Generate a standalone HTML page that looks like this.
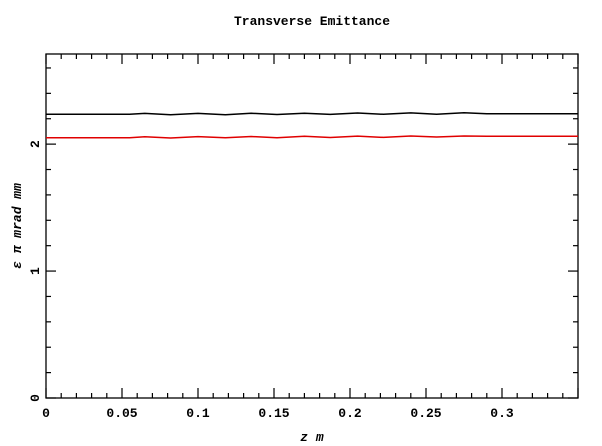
<!DOCTYPE html>
<html><head><meta charset="utf-8"><style>
body{margin:0;background:#fff}
svg{display:block}
text{font-family:"Liberation Mono",monospace;fill:#000}
</style></head><body>
<svg width="602" height="446" viewBox="0 0 602 446">
<text x="312" y="25" text-anchor="middle" font-size="13" font-weight="bold">Transverse Emittance</text>
<g id="axes"></g>
<g id="series"></g>
<text x="312" y="441" text-anchor="middle" font-size="13" font-style="italic" font-weight="bold">z m</text>
<text transform="translate(21,226) rotate(-90)" text-anchor="middle" font-size="13" font-style="italic" font-weight="bold">ε π mrad mm</text>
</svg>
<script>
const xTicks=[0,0.05,0.1,0.15,0.2,0.25,0.3];
const xTickLabels=["0","0.05","0.1","0.15","0.2","0.25","0.3"];
const yTicks=[0,1,2];
const yTickLabels=["0","1","2"];
const zValues=[0,0.055,0.065,0.082,0.1,0.118,0.135,0.152,0.17,0.187,0.205,0.222,0.24,0.257,0.275,0.29,0.35];
const blackSeries=[2.235,2.235,2.242,2.232,2.242,2.232,2.243,2.233,2.244,2.234,2.245,2.235,2.246,2.236,2.247,2.24,2.24];
const redSeries=[2.05,2.05,2.058,2.048,2.059,2.05,2.06,2.05,2.062,2.052,2.063,2.053,2.064,2.056,2.064,2.062,2.062];
const X0=46,X1=578,Y0=398,Y1=54,XMAX=0.35,YMAX=2.71;
const sx=v=>X0+v/XMAX*(X1-X0);
const sy=v=>Y0-v/YMAX*(Y0-Y1);
const NS="http://www.w3.org/2000/svg";
const axes=document.getElementById('axes'),ser=document.getElementById('series');
function mk(tag,attrs,parent){const e=document.createElementNS(NS,tag);for(const k in attrs)e.setAttribute(k,attrs[k]);parent.appendChild(e);return e;}
const frame=mk('rect',{x:X0,y:Y1,width:X1-X0,height:Y0-Y1,fill:'none',stroke:'#000','stroke-width':1.3},axes);


for(let i=0;i<=35;i++){const v=i*0.01;const x=sx(v);const L=(i%5==0)?10:5;
 mk('line',{x1:x,x2:x,y1:Y0,y2:Y0-L,stroke:'#000','stroke-width':1.2},axes);
 mk('line',{x1:x,x2:x,y1:Y1,y2:Y1+L,stroke:'#000','stroke-width':1.2},axes);}
for(let i=0;i<=13;i++){const v=i*0.2;const y=sy(v);const L=(i%5==0)?10:5;
 mk('line',{x1:X0,x2:X0+L,y1:y,y2:y,stroke:'#000','stroke-width':1.2},axes);
 mk('line',{x1:X1,x2:X1-L,y1:y,y2:y,stroke:'#000','stroke-width':1.2},axes);}
xTicks.forEach((v,i)=>{const t=mk('text',{x:sx(v),y:Y0+19,'text-anchor':'middle','font-size':13,'font-weight':'bold'},axes);t.textContent=xTickLabels[i];
 
 });
yTicks.forEach((v,i)=>{const t=mk('text',{transform:`translate(39,${sy(v)}) rotate(-90)`,'text-anchor':'middle','font-size':13,'font-weight':'bold'},axes);t.textContent=yTickLabels[i];
 
 });
function line(vals,color,name){const d=zValues.map((z,i)=>(i?'L':'M')+sx(z).toFixed(1)+' '+sy(vals[i]).toFixed(1)).join(' ');
 const p=mk('path',{d:d,fill:'none',stroke:color,'stroke-width':1.5,'stroke-linejoin':'round'},ser);
 
 }
line(blackSeries,'#000','emittance-x-line');
line(redSeries,'#e00000','emittance-y-line');
</script>
</body></html>
